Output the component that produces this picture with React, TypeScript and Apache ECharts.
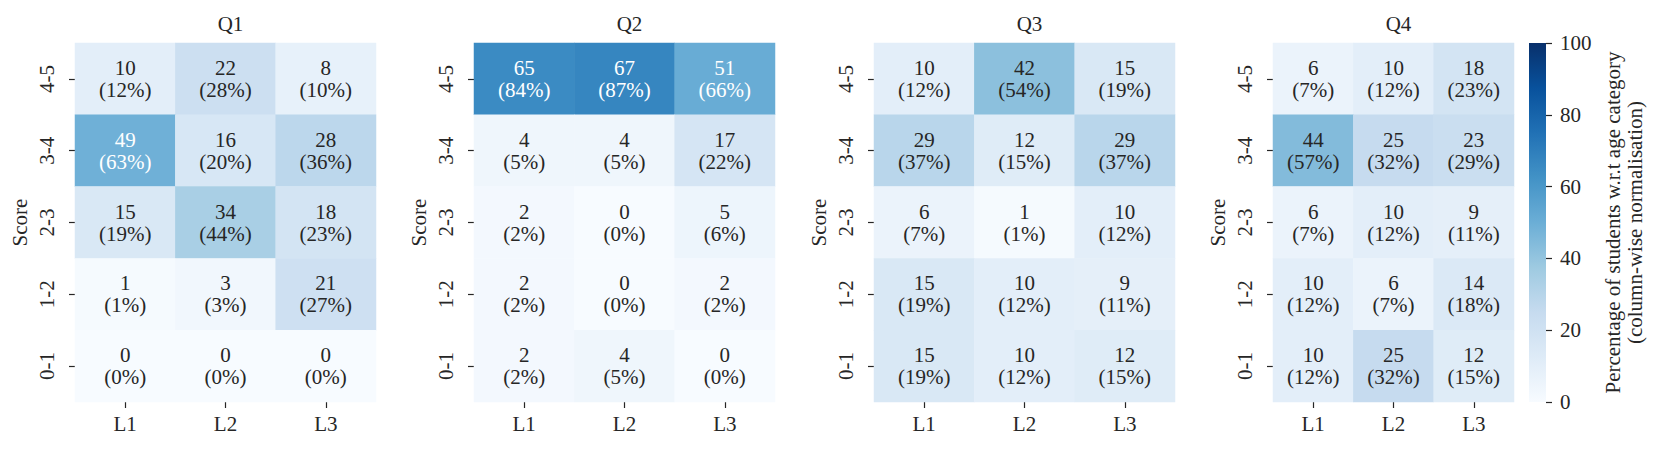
import React, { useEffect, useRef } from "react";
import * as echarts from "echarts";

const panels = ["Q1", "Q2", "Q3", "Q4"];
const ageCategories = ["L1", "L2", "L3"];
const scoreCategories = ["0-1", "1-2", "2-3", "3-4", "4-5"]; // bottom to top

// rows listed top (4-5) to bottom (0-1); columns L1, L2, L3
const q1Counts = [[10, 22, 8], [49, 16, 28], [15, 34, 18], [1, 3, 21], [0, 0, 0]];
const q1Pcts = [[12, 28, 10], [63, 20, 36], [19, 44, 23], [1, 3, 27], [0, 0, 0]];
const q2Counts = [[65, 67, 51], [4, 4, 17], [2, 0, 5], [2, 0, 2], [2, 4, 0]];
const q2Pcts = [[84, 87, 66], [5, 5, 22], [2, 0, 6], [2, 0, 2], [2, 5, 0]];
const q3Counts = [[10, 42, 15], [29, 12, 29], [6, 1, 10], [15, 10, 9], [15, 10, 12]];
const q3Pcts = [[12, 54, 19], [37, 15, 37], [7, 1, 12], [19, 12, 11], [19, 12, 15]];
const q4Counts = [[6, 10, 18], [44, 25, 23], [6, 10, 9], [10, 6, 14], [10, 25, 12]];
const q4Pcts = [[7, 12, 23], [57, 32, 29], [7, 12, 11], [12, 7, 18], [12, 32, 15]];

const colorbarTicks = [0, 20, 40, 60, 80, 100];
const colorbarTitle = "Percentage of students w.r.t age category\n(column-wise normalisation)";

const blues = ["#f7fbff", "#deebf7", "#c6dbef", "#9ecae1", "#6baed6", "#4292c6", "#2171b5", "#08519c", "#08306b"];

const allCounts = [q1Counts, q2Counts, q3Counts, q4Counts];
const allPcts = [q1Pcts, q2Pcts, q3Pcts, q4Pcts];

const FONT = "Liberation Serif";
const TEXT = "#262626";
const FS = 21;

const gridBoxes = [
  { left: 75, width: 301 },
  { left: 474, width: 301 },
  { left: 874, width: 301 },
  { left: 1273, width: 241 },
];
const TOP = 43;
const HEIGHT = 359;
const Y_LABEL_OFFSET = 28;

const serif = { fontFamily: FONT, fontSize: FS, color: TEXT };

export default function App() {
  const ref = useRef<HTMLDivElement>(null);
  useEffect(() => {
    if (!ref.current) return;
    const chart = echarts.init(ref.current, null, { renderer: "svg" });

    const grids: any[] = gridBoxes.map((g) => ({ left: g.left, top: TOP, width: g.width, height: HEIGHT }));
    grids.push({ left: 1529, top: TOP, width: 17, height: HEIGHT });

    const xAxes: any[] = gridBoxes.map((_, i) => ({
      type: "category",
      gridIndex: i,
      data: ageCategories,
      axisLine: { show: false },
      axisTick: { show: true, alignWithLabel: true, length: 6, lineStyle: { color: TEXT, width: 1.2 } },
      axisLabel: { ...serif, margin: 11, interval: 0 },
      splitLine: { show: false },
    }));
    xAxes.push({ type: "category", gridIndex: 4, data: ["c"], show: false });

    const yAxes: any[] = gridBoxes.map((_, i) => ({
      type: "category",
      gridIndex: i,
      data: scoreCategories,
      name: "Score",
      nameLocation: "middle",
      nameRotate: 90,
      nameGap: 45,
      nameMoveOverlap: false,
      nameTextStyle: { ...serif },
      axisLine: { show: false },
      axisTick: { show: true, alignWithLabel: true, interval: 0, length: 6, lineStyle: { color: TEXT, width: 1.2 } },
      axisLabel: { show: false },
      splitLine: { show: false },
    }));
    yAxes.push({
      type: "value",
      gridIndex: 4,
      position: "right",
      min: 0,
      max: 100,
      interval: 20,
      data: colorbarTicks,
      name: colorbarTitle,
      nameLocation: "middle",
      nameRotate: 90,
      nameGap: 56,
      nameTextStyle: { ...serif, lineHeight: 22 },
      axisLine: { show: false },
      axisTick: { show: true, length: 6, lineStyle: { color: TEXT, width: 1.2 } },
      axisLabel: { ...serif, margin: 14 },
      splitLine: { show: false },
    });

    const series: any[] = panels.map((_, i) => {
      const counts = allCounts[i];
      const pcts = allPcts[i];
      const data: any[] = [];
      for (let r = 0; r < counts.length; r++) {
        const yIdx = scoreCategories.length - 1 - r;
        for (let c = 0; c < ageCategories.length; c++) {
          const n = counts[r][c];
          data.push({ value: [c, yIdx, n, pcts[r][c]] });
        }
      }
      return {
        type: "heatmap",
        xAxisIndex: i,
        yAxisIndex: i,
        data,
        label: {
          show: true,
          fontFamily: FONT,
          fontSize: FS,
          lineHeight: 22,
          formatter: (p: any) => {
            const k = p.value[2] > 46 ? "w" : "d";
            return `{${k}|${p.value[2]}}\n{${k}|(${p.value[3]}%)}`;
          },
          rich: {
            d: { fontFamily: FONT, fontSize: FS, lineHeight: 22, color: TEXT },
            w: { fontFamily: FONT, fontSize: FS, lineHeight: 22, color: "#ffffff" },
          },
        },
        itemStyle: { borderWidth: 0 },
        emphasis: { disabled: true },
      };
    });

    series.push({
      type: "bar",
      xAxisIndex: 4,
      yAxisIndex: 4,
      data: [100],
      barWidth: "100%",
      itemStyle: {
        color: new echarts.graphic.LinearGradient(
          0, 1, 0, 0,
          blues.map((c, k) => ({ offset: k / (blues.length - 1), color: c }))
        ),
      },
      silent: true,
    });

    const titles = panels.map((p, i) => ({
      text: p,
      left: gridBoxes[i].left + gridBoxes[i].width / 2,
      top: 8,
      textAlign: "center",
      textStyle: { fontFamily: FONT, fontSize: FS, fontWeight: "normal", color: TEXT },
    }));

    chart.setOption({
      animation: false,
      backgroundColor: "#ffffff",
      textStyle: { fontFamily: FONT },
      title: titles,
      grid: grids,
      xAxis: xAxes,
      yAxis: yAxes,
      visualMap: {
        type: "continuous",
        show: false,
        min: 0,
        max: 100,
        dimension: 2,
        seriesIndex: [0, 1, 2, 3],
        inRange: { color: blues },
      },
      series,
    });

    // rotated y tick labels, placed at the category positions given by the axes
    const yLabelTexts: any[] = [];
    gridBoxes.forEach((g, i) => {
      scoreCategories.forEach((cat, k) => {
        const pt = chart.convertToPixel({ xAxisIndex: i, yAxisIndex: i } as any, [0, k]) as number[];
        yLabelTexts.push({
          type: "text",
          x: g.left - Y_LABEL_OFFSET,
          y: pt[1],
          rotation: Math.PI / 2,
          style: {
            text: cat,
            fontFamily: FONT,
            fontSize: FS,
            fill: TEXT,
            align: "center",
            verticalAlign: "middle",
          },
          silent: true,
        });
      });
    });
    chart.setOption({ graphic: yLabelTexts });

    return () => chart.dispose();
  }, []);
  return (
    <div
      ref={ref}
      style={{ position: "absolute", left: 0, top: 0, width: 1661, height: 449 }}
    />
  );
}
